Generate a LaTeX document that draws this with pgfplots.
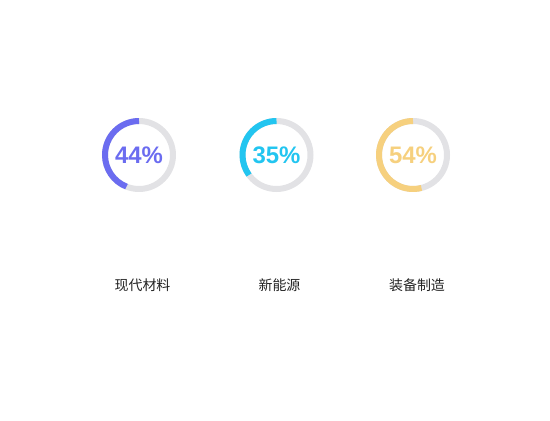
\documentclass[border=0pt]{standalone}
\usepackage{pgfplots}
\pgfplotsset{compat=1.18}
\usepackage{fontspec}
\setmainfont{Liberation Sans}
\newfontfamily\cjk{Noto Sans CJK SC}
\definecolor{cpurple}{HTML}{6B6CF0}
\definecolor{ccyan}{HTML}{22C5F0}
\definecolor{cyellow}{HTML}{F6D07E}
\definecolor{cgray}{HTML}{E2E2E5}
\definecolor{ctext}{HTML}{222222}
\pgfdeclareplotmark{gauge}{%
  \pgfmathsetmacro\endang{90+3.6*\gval}%
  \pgfsetlinewidth{6bp}%
  \pgfsetbuttcap
  \pgfsetstrokecolor{cgray}%
  \pgfpathcircle{\pgfpointorigin}{34bp}%
  \pgfusepath{stroke}%
  \pgfsetstrokecolor{\gcol}%
  \pgfpathmoveto{\pgfpointpolar{90}{34bp}}%
  \pgfpatharc{90}{\endang}{34bp}%
  \pgfusepath{stroke}%
}
\pgfplotstableread{
x y v
139 265 44
}\tA
\pgfplotstableread{
x y v
276.5 265 35
}\tB
\pgfplotstableread{
x y v
413 265 54
}\tC
\begin{document}
\begin{tikzpicture}[x=1bp,y=1bp]
\begin{axis}[at={(0,0)}, anchor=south west, width=550bp, height=420bp,
  scale only axis, xmin=0, xmax=550, ymin=0, ymax=420, hide axis, clip=false,
  gauge/.style={only marks, mark=gauge,
    visualization depends on={\thisrow{v} \as \gval},
    visualization depends on={value #1 \as \gcol},
    point meta=explicit symbolic,
    nodes near coords={\pgfplotspointmeta\%},
    every node near coord/.append style={anchor=center, yshift=0pt,
      font=\bfseries\fontsize{24}{24}\selectfont, text=#1, inner sep=0pt},
  }]
\addplot[gauge=cpurple] table[x=x, y=y, meta=v] {\tA};
\addplot[gauge=ccyan] table[x=x, y=y, meta=v] {\tB};
\addplot[gauge=cyellow] table[x=x, y=y, meta=v] {\tC};
\node[font=\cjk\fontsize{14}{14}\selectfont, text=ctext] at (axis cs:142.5,135) {现代材料};
\node[font=\cjk\fontsize{14}{14}\selectfont, text=ctext] at (axis cs:279.5,135) {新能源};
\node[font=\cjk\fontsize{14}{14}\selectfont, text=ctext] at (axis cs:417,135) {装备制造};
\end{axis}
\pgfresetboundingbox
\path (0,0) rectangle (550,420);
\end{tikzpicture}
\end{document}
